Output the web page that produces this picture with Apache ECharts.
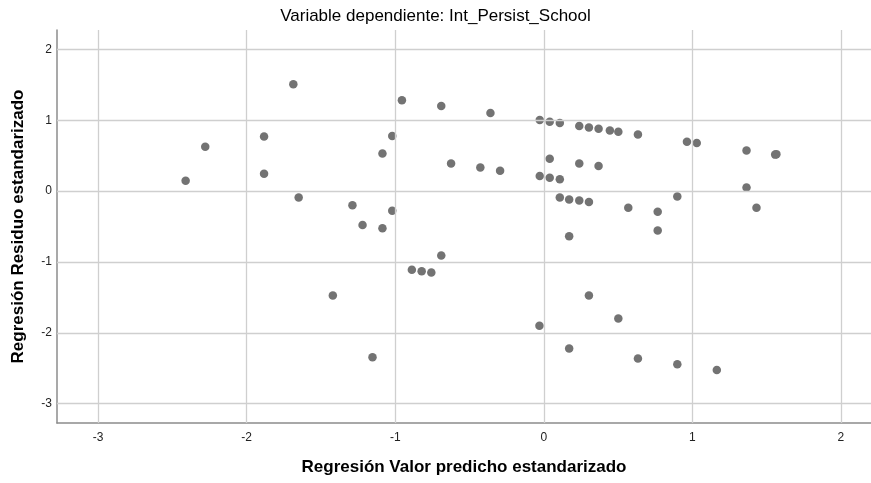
<!DOCTYPE html>
<html>
<head>
<meta charset="utf-8">
<script src="https://cdn.jsdelivr.net/npm/echarts@6/dist/echarts.min.js"></script>
<style>
  html, body { margin: 0; padding: 0; background: #fff; }
  #chart { width: 871px; height: 483px; }
</style>
</head>
<body>
<div id="chart"></div>
<script>
// Standardized predicted value (x) vs standardized residual (y)
const predicted = [
  -2.411, -2.279, -1.883, -1.883, -1.686, -1.650, -0.955, -0.690, -0.359, -0.027,
   0.040,  0.108,  0.239,  0.304,  0.369,  0.445,  0.502,  0.634,  0.964,  1.030,
   1.365,  1.558,  1.566, -1.020, -1.086, -0.624, -0.427, -0.294, -0.027,  0.040,
   0.040,  0.108,  0.239,  0.369,  1.365,  0.108,  0.171,  0.239,  0.304,  0.569,
   0.767,  0.899,  1.432, -1.288, -1.020, -1.220, -1.086,  0.171,  0.767, -0.690,
  -0.888, -0.822, -0.757, -1.420,  0.304, -0.029,  0.502,  0.171, -1.153,  0.634,
   0.899,  1.165
];
const residual = [
   0.145,  0.626,  0.772,  0.245,  1.507, -0.089,  1.281,  1.200,  1.102,  1.003,
   0.979,  0.960,  0.920,  0.899,  0.880,  0.857,  0.838,  0.800,  0.697,  0.678,
   0.574,  0.515,  0.522,  0.777,  0.532,  0.391,  0.334,  0.287,  0.212,  0.457,
   0.188,  0.169,  0.391,  0.353,  0.052, -0.089, -0.117, -0.132, -0.155, -0.235,
  -0.292, -0.075, -0.235, -0.198, -0.278, -0.480, -0.523, -0.636, -0.555, -0.909,
  -1.111, -1.130, -1.149, -1.474, -1.474, -1.902, -1.799, -2.222, -2.345, -2.364,
  -2.444, -2.524
];
const xTicks = [-3, -2, -1, 0, 1, 2];
const yTicks = [-3, -2, -1, 0, 1, 2];

const points = predicted.map((x, i) => [x, residual[i]]);

const chart = echarts.init(document.getElementById('chart'), null, { renderer: 'canvas' });
const font = '"Liberation Sans", Arial, sans-serif';

chart.setOption({
  animation: false,
  backgroundColor: '#ffffff',
  title: {
    text: 'Variable dependiente: Int_Persist_School',
    left: 'center',
    top: 3,
    textStyle: { fontFamily: font, fontSize: 17, fontWeight: 'normal', color: '#000' }
  },
  grid: { left: 57, right: 0, top: 30, bottom: 60 },
  xAxis: {
    type: 'value',
    min: -3.277,
    max: 2.203,
    name: 'Regresión Valor predicho estandarizado',
    nameLocation: 'middle',
    nameGap: 36,
    nameTextStyle: { fontFamily: font, fontSize: 17, fontWeight: 'bold', color: '#000' },
    axisLine: { show: true, onZero: false, lineStyle: { color: '#8c8c8c', width: 1.5 } },
    axisTick: { show: false },
    splitLine: { show: false },
    axisLabel: {
      fontFamily: font, fontSize: 12, color: '#222', margin: 9,
      customValues: xTicks
    }
  },
  yAxis: {
    type: 'value',
    min: -3.273,
    max: 2.274,
    name: 'Regresión Residuo estandarizado',
    nameLocation: 'middle',
    nameGap: 30,
    nameRotate: 90,
    nameTextStyle: { fontFamily: font, fontSize: 17, fontWeight: 'bold', color: '#000' },
    axisLine: { show: true, onZero: false, lineStyle: { color: '#8c8c8c', width: 1.5 } },
    axisTick: { show: false },
    splitLine: { show: false },
    axisLabel: {
      fontFamily: font, fontSize: 12, color: '#222', margin: 5,
      customValues: yTicks
    }
  },
  series: [
    {
      // reference lines at the integer ticks
      type: 'line',
      silent: true,
      data: [],
      markLine: {
        silent: true,
        symbol: 'none',
        label: { show: false },
        lineStyle: { color: '#cfcfcf', width: 1.3, type: 'solid' },
        data: xTicks.map(v => ({ xAxis: v })).concat(yTicks.map(v => ({ yAxis: v })))
      }
    },
    {
      type: 'scatter',
      data: points,
      symbol: 'circle',
      symbolSize: 8.5,
      itemStyle: { color: '#737373', opacity: 1 }
    }
  ]
});
</script>
</body>
</html>
